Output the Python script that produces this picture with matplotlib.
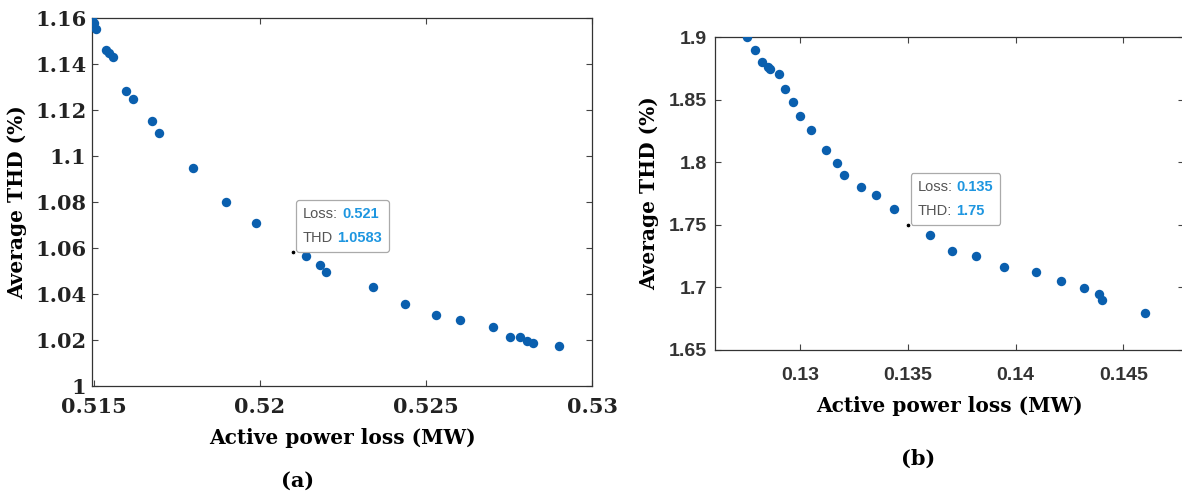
#Pareto fronts: average THD vs active power loss, two cases (a) and (b)

import matplotlib
matplotlib.use('Agg')
import matplotlib.pyplot as plt
from matplotlib.offsetbox import TextArea, HPacker, VPacker, AnnotationBbox

###Data
# Case (a)
loss_a = [0.51493, 0.51499, 0.51506, 0.51536, 0.51546, 0.51558, 0.51596, 0.51616,
          0.51676, 0.51697, 0.51798, 0.51899, 0.51988, 0.52138, 0.52180, 0.52199,
          0.52339, 0.52438, 0.52531, 0.52602, 0.52702, 0.52752, 0.52783, 0.52803,
          0.52823, 0.52902]
thd_a = [1.1600, 1.1577, 1.1551, 1.1461, 1.1446, 1.1432, 1.1283, 1.1248,
         1.1152, 1.1099, 1.0949, 1.0800, 1.0709, 1.0565, 1.0526, 1.0497,
         1.0430, 1.0358, 1.0310, 1.0285, 1.0257, 1.0214, 1.0214, 1.0196,
         1.0186, 1.0175]
tip_a = (0.521, 1.0583)

# Case (b)
loss_b = [0.12751, 0.12791, 0.12821, 0.12849, 0.12861, 0.12900, 0.12929, 0.12968,
          0.13000, 0.13048, 0.13119, 0.13172, 0.13203, 0.13280, 0.13350, 0.13435,
          0.13604, 0.13703, 0.13817, 0.13946, 0.14097, 0.14212, 0.14318, 0.14388,
          0.14399, 0.14599]
thd_b = [1.9000, 1.8898, 1.8800, 1.8757, 1.8747, 1.8704, 1.8587, 1.8480,
         1.8368, 1.8261, 1.8099, 1.7995, 1.7899, 1.7801, 1.7742, 1.7625,
         1.7419, 1.7294, 1.7249, 1.7166, 1.7126, 1.7054, 1.6993, 1.6950,
         1.6897, 1.6793]
tip_b = (0.135, 1.75)

xticks_a = [0.515, 0.52, 0.525, 0.53]
yticks_a = [1, 1.02, 1.04, 1.06, 1.08, 1.1, 1.12, 1.14, 1.16]
xticks_b = [0.13, 0.135, 0.14, 0.145]
yticks_b = [1.65, 1.7, 1.75, 1.8, 1.85, 1.9]

###Styles
dot_blue = '#0a5fae'
tip_blue = '#1e96e0'
serif = 'DejaVu Serif'
sans = 'Liberation Sans'


def fmt(v):
    return ('%g' % v)


def datatip(ax, xy, label1, val1, label2, val2):
    # MATLAB-like data tip: gray label, blue bold value
    props_l = dict(color='#555555', fontsize=10.5, family=sans)
    props_v = dict(color=tip_blue, fontsize=10.5, family=sans, fontweight='bold')
    row1 = HPacker(children=[TextArea(label1, textprops=props_l),
                             TextArea(val1, textprops=props_v)], pad=0, sep=3)
    row2 = HPacker(children=[TextArea(label2, textprops=props_l),
                             TextArea(val2, textprops=props_v)], pad=0, sep=3)
    box = VPacker(children=[row1, row2], pad=0, sep=7)
    ab = AnnotationBbox(box, xy, xybox=(7, 5), xycoords='data',
                        boxcoords='offset points', box_alignment=(0, 0),
                        frameon=True, pad=0.5,
                        bboxprops=dict(boxstyle='round,pad=0.5,rounding_size=0.2',
                                       fc='white', ec='#aaaaaa', lw=0.9))
    ax.add_artist(ab)
    ax.plot(xy[0], xy[1], 'o', color='black', markersize=3.5,
            markeredgecolor='white', markeredgewidth=0.8, zorder=5)


def style_axes(ax, tick_family, tick_color, tick_size, xpad, ypad):
    ax.tick_params(direction='in', top=True, right=True, length=4, width=0.8,
                   color='#444444', labelcolor=tick_color, labelsize=tick_size)
    ax.tick_params(axis='x', pad=xpad)
    ax.tick_params(axis='y', pad=ypad)
    for lab in ax.get_xticklabels() + ax.get_yticklabels():
        lab.set_family(tick_family)
        lab.set_fontweight('bold')
    for s in ax.spines.values():
        s.set_linewidth(0.9)
        s.set_color('#333333')


fig = plt.figure(figsize=(11.82, 4.96), dpi=100)

### Panel (a)
ax1 = fig.add_axes([92 / 1182, 110 / 496, 500 / 1182, 368 / 496])
ax1.scatter(loss_a, thd_a, s=46, color=dot_blue, zorder=3, linewidths=0)
ax1.set_xlim(0.51494, 0.53)
ax1.set_ylim(1, 1.16)
ax1.set_xticks(xticks_a)
ax1.set_xticklabels([fmt(v) for v in xticks_a])
ax1.set_yticks(yticks_a)
ax1.set_yticklabels([fmt(v) for v in yticks_a])
style_axes(ax1, serif, '#222222', 15, 8, 4)
ax1.set_xlabel('Active power loss (MW)', family=serif, fontweight='bold',
               fontsize=14.5, labelpad=8)
ax1.set_ylabel('Average THD (%)', family=serif, fontweight='bold', fontsize=14.5,
               labelpad=6)
datatip(ax1, tip_a, 'Loss:', '0.521', 'THD', '1.0583')
fig.text(298 / 1182, 1 - 481 / 496, '(a)', family=serif, fontweight='bold',
         fontsize=15, ha='center', va='center')

### Panel (b)
ax2 = fig.add_axes([715 / 1182, 146 / 496, 469 / 1182, 313 / 496])
ax2.scatter(loss_b, thd_b, s=46, color=dot_blue, zorder=3, linewidths=0)
ax2.set_xlim(0.12604, 0.14782)
ax2.set_ylim(1.65, 1.9)
ax2.set_xticks(xticks_b)
ax2.set_xticklabels([fmt(v) for v in xticks_b])
ax2.set_yticks(yticks_b)
ax2.set_yticklabels([fmt(v) for v in yticks_b])
style_axes(ax2, sans, '#333333', 14, 12, 6)
ax2.set_xlabel('Active power loss (MW)', family=serif, fontweight='bold',
               fontsize=14.5, labelpad=9)
ax2.set_ylabel('Average THD (%)', family=serif, fontweight='bold', fontsize=14.5,
               labelpad=7)
datatip(ax2, tip_b, 'Loss:', '0.135', 'THD:', '1.75')
fig.text(918 / 1182, 1 - 459 / 496, '(b)', family=serif, fontweight='bold',
         fontsize=15, ha='center', va='center')

fig.savefig('out.png', dpi=100)
